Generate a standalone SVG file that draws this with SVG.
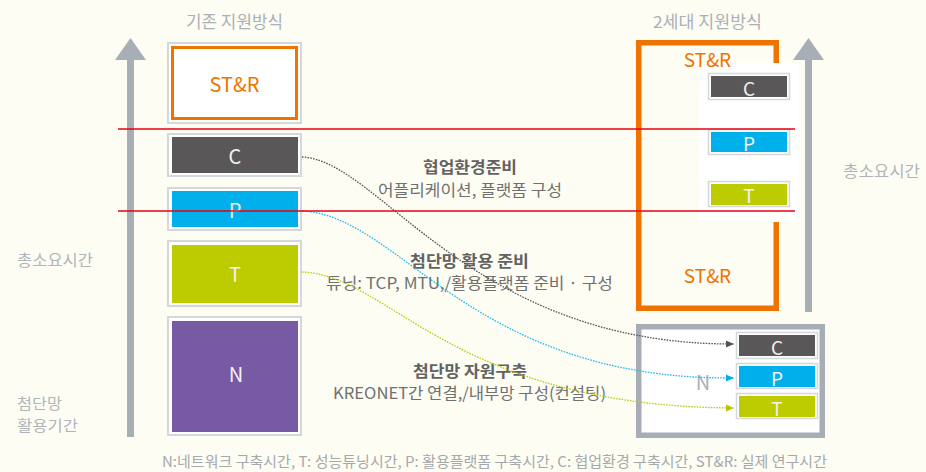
<svg xmlns="http://www.w3.org/2000/svg" width="926" height="472" viewBox="0 0 926 472">
<defs>
<style>
text{font-family:"Noto Sans CJK KR","Noto Sans",sans-serif;dominant-baseline:central}
.title{font-size:16.5px;fill:#a9b0b6;text-anchor:middle}
.side{font-size:16px;fill:#b1b5b9}
.side2{font-size:15px;fill:#b1b5b9}
.frame{fill:#ffffff;stroke:#d3d8db;stroke-width:2}
.sframe{fill:#ffffff;stroke:#d3d8db;stroke-width:1.5}
.lbl{font-size:20px;fill:#f2f2f2;text-anchor:middle}
.slbl{font-size:19px;fill:#f2f2f2;text-anchor:middle}
.orange{fill:#ef7300}
.hd{font-size:15.5px;font-weight:bold;fill:#626262;text-anchor:middle}
.sub{font-size:16px;fill:#707070;text-anchor:middle}
.conn{fill:none;stroke-width:1.3;stroke-dasharray:1.6 1.2}
.red{stroke:#e60012;stroke-width:1.6}
.arrow{fill:#a7aeb5}
</style>
<marker id="mC" markerUnits="userSpaceOnUse" markerWidth="8" markerHeight="8" refX="8" refY="4" orient="auto"><path d="M0,0.5 L8,4 L0,7.5 z" fill="#555353"/></marker>
<marker id="mP" markerUnits="userSpaceOnUse" markerWidth="8" markerHeight="8" refX="8" refY="4" orient="auto"><path d="M0,0.5 L8,4 L0,7.5 z" fill="#00aeea"/></marker>
<marker id="mT" markerUnits="userSpaceOnUse" markerWidth="8" markerHeight="8" refX="8" refY="4" orient="auto"><path d="M0,0.5 L8,4 L0,7.5 z" fill="#b5c800"/></marker>
</defs>
<rect width="926" height="472" fill="#fdfdf4"/>

<g id="titles">
<text class="title" x="234.5" y="21" textLength="97" lengthAdjust="spacingAndGlyphs">기존 지원방식</text>
<text class="title" x="707.5" y="21" textLength="109" lengthAdjust="spacingAndGlyphs">2세대 지원방식</text>
</g>

<g id="axis-left">
<polygon class="arrow" points="130.5,38 115,60 146,60"/>
<rect class="arrow" x="127" y="59" width="7" height="378"/>
<text class="side" x="17" y="259" textLength="76" lengthAdjust="spacingAndGlyphs">총소요시간</text>
<text class="side2" x="17" y="402" textLength="45" lengthAdjust="spacingAndGlyphs">첨단망</text>
<text class="side2" x="17" y="424" textLength="61" lengthAdjust="spacingAndGlyphs">활용기간</text>
</g>

<g id="old-STR">
<rect class="frame" x="168" y="43" width="133" height="80"/>
<rect x="172.5" y="47.5" width="124" height="71" fill="#ffffff" stroke="#ef7300" stroke-width="3"/>
<text class="orange" x="234.5" y="83" font-size="20" text-anchor="middle">ST&amp;R</text>
</g>
<g id="old-C">
<rect class="frame" x="168" y="134" width="133" height="42"/>
<rect x="172" y="137" width="126" height="36" fill="#5a5758"/>
<text class="lbl" x="235" y="155">C</text>
</g>
<g id="old-P">
<rect class="frame" x="168" y="188" width="133" height="42"/>
<rect x="172" y="191" width="126" height="36" fill="#00b0ea"/>
<text class="lbl" x="235" y="209">P</text>
</g>
<g id="old-T">
<rect class="frame" x="168" y="241" width="133" height="65"/>
<rect x="172" y="245" width="126" height="58" fill="#bccc00"/>
<text class="lbl" x="235" y="273">T</text>
</g>
<g id="old-N">
<rect class="frame" x="168" y="317" width="133" height="118"/>
<rect x="172" y="321" width="126" height="111" fill="#7859a3"/>
<text class="lbl" x="236" y="373" font-size="21">N</text>
</g>

<g id="new-STR">
<rect x="638.75" y="42.75" width="137.5" height="265.5" fill="none" stroke="#ef7300" stroke-width="5.5"/>
<rect x="699" y="63" width="100" height="159" fill="#ffffff"/>
<text class="orange" x="707.5" y="58" font-size="19" text-anchor="middle">ST&amp;R</text>
<text class="orange" x="707.5" y="274" font-size="19" text-anchor="middle">ST&amp;R</text>
</g>
<g id="new-C">
<rect class="sframe" x="708.5" y="73.5" width="81" height="26"/>
<rect x="711" y="76" width="76" height="21" fill="#5a5758"/>
<text class="slbl" x="749" y="87">C</text>
</g>
<g id="new-P">
<rect class="sframe" x="708.5" y="129.5" width="81" height="25"/>
<rect x="711" y="132" width="76" height="20" fill="#00b0ea"/>
<text class="slbl" x="749" y="142">P</text>
</g>
<g id="new-T">
<rect class="sframe" x="708.5" y="181.5" width="81" height="25"/>
<rect x="711" y="184" width="76" height="21" fill="#bccc00"/>
<text class="slbl" x="749" y="194">T</text>
</g>

<g id="axis-right">
<polygon class="arrow" points="808.5,38 793,60 824,60"/>
<rect class="arrow" x="805" y="59" width="7" height="253"/>
<text class="side" x="843" y="170" textLength="77" lengthAdjust="spacingAndGlyphs">총소요시간</text>
</g>

<g id="new-N">
<rect x="638.75" y="326.75" width="183.5" height="108.5" fill="#ffffff" stroke="#a6adb4" stroke-width="5.5"/>
<text x="703" y="381" font-size="20" fill="#a9b0b6" text-anchor="middle">N</text>
</g>
<g id="new-N-C">
<rect class="sframe" x="736.5" y="332.5" width="81" height="26"/>
<rect x="739" y="335" width="76" height="21" fill="#5a5758"/>
<text class="slbl" x="777" y="346">C</text>
</g>
<g id="new-N-P">
<rect class="sframe" x="736.5" y="363.5" width="81" height="25"/>
<rect x="739" y="366" width="76" height="21" fill="#00b0ea"/>
<text class="slbl" x="777" y="377">P</text>
</g>
<g id="new-N-T">
<rect class="sframe" x="736.5" y="393.5" width="81" height="25"/>
<rect x="739" y="396" width="76" height="21" fill="#bccc00"/>
<text class="slbl" x="777" y="407">T</text>
</g>

<g id="labels">
<text class="hd" x="470" y="166" textLength="94" lengthAdjust="spacingAndGlyphs">협업환경준비</text>
<text class="sub" x="470" y="189" textLength="184" lengthAdjust="spacingAndGlyphs">어플리케이션, 플랫폼 구성</text>
<text class="hd" x="469.5" y="260" textLength="119" lengthAdjust="spacingAndGlyphs">첨단망 활용 준비</text>
<text class="sub" x="469.5" y="282" textLength="287" lengthAdjust="spacingAndGlyphs">튜닝: TCP, MTU,/활용플랫폼 준비 · 구성</text>
<text class="hd" x="470" y="370" textLength="114" lengthAdjust="spacingAndGlyphs">첨단망 자원구축</text>
<text class="sub" x="469.5" y="392" textLength="273" lengthAdjust="spacingAndGlyphs">KREONET간 연결,/내부망 구성(컨설팅)</text>
</g>

<g id="connectors">
<path class="conn" stroke="#555353" d="M302,157 C380,160 470,345 734,344" marker-end="url(#mC)"/>
<path class="conn" stroke="#20b8ee" d="M302,211 C400,215 470,380 734,378" marker-end="url(#mP)"/>
<path class="conn" stroke="#bccc10" d="M302,272 C390,275 450,406 734,408" marker-end="url(#mT)"/>
</g>

<g id="red-lines">
<line class="red" x1="118" y1="129" x2="795" y2="129"/>
<line class="red" x1="118" y1="211" x2="795" y2="211"/>
</g>

<g id="legend">
<text x="494.5" y="460" font-size="14.5" fill="#a5a9ad" text-anchor="middle" textLength="665" lengthAdjust="spacingAndGlyphs">N:네트워크 구축시간, T: 성능튜닝시간, P: 활용플랫폼 구축시간, C: 협업환경 구축시간, ST&amp;R: 실제 연구시간</text>
</g>
</svg>
